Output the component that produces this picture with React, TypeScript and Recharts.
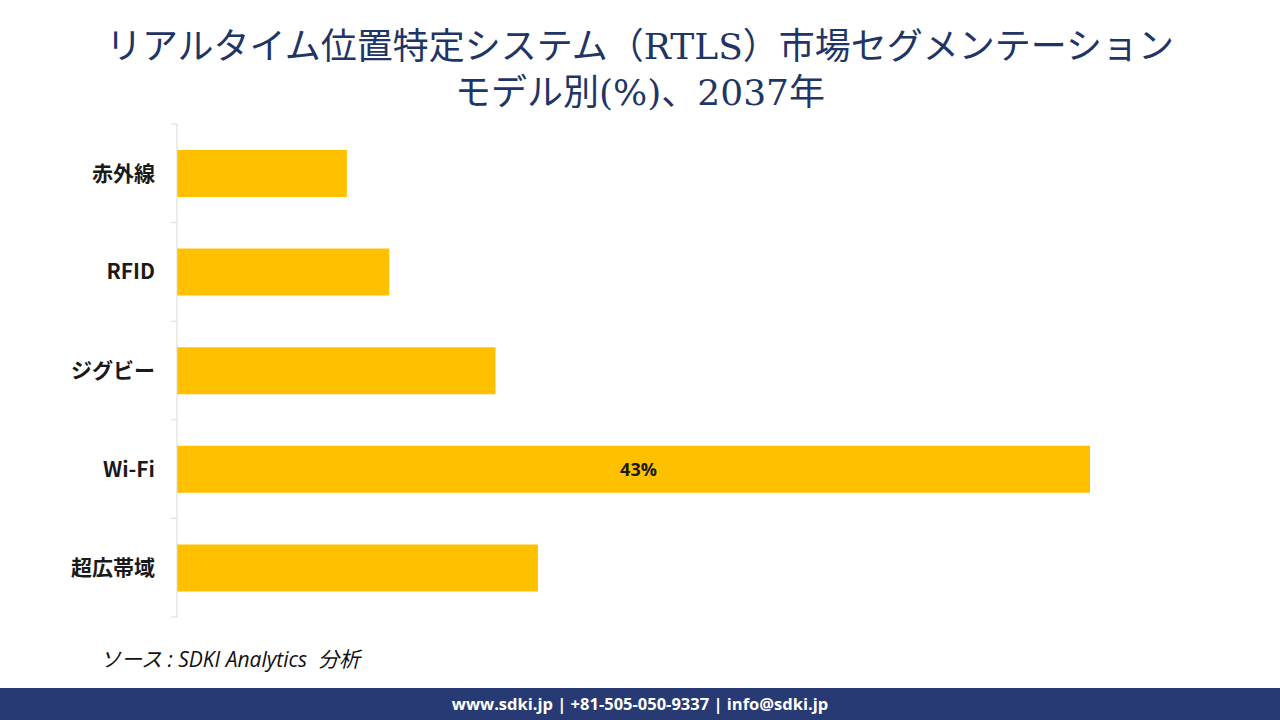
import { BarChart, Bar, XAxis, YAxis, LabelList } from "recharts";

const categories = ["赤外線", "RFID", "ジグビー", "Wi-Fi", "超広帯域"];
const shares = [8, 10, 15, 43, 17];
const shownLabels = ["", "", "", "43%", ""];

const data = categories.map((name, i) => ({ name, value: shares[i], label: shownLabels[i] }));

const W = 1280;
const H = 720;
const PLOT_TOP = 124;
const PLOT_BOTTOM = 617;
const PLOT_LEFT = 177;
const PLOT_RIGHT = 1090;
const AXIS_W = 110;
const band = (PLOT_BOTTOM - PLOT_TOP) / categories.length;

const CatTick = (props: any) => {
  const { x, y, payload, index } = props;
  return (
    <g>
      <line x1={x - 6} y1={y - band / 2} x2={x} y2={y - band / 2} stroke="#d9d9d9" />
      {index === categories.length - 1 && (
        <line x1={x - 6} y1={y + band / 2} x2={x} y2={y + band / 2} stroke="#d9d9d9" />
      )}
      <text
        x={x - 22}
        y={y}
        dy="0.36em"
        textAnchor="end"
        fill="#1a1a1a"
        fontSize={21}
        fontWeight={700}
        fontFamily="'Noto Sans CJK JP', 'Noto Sans', sans-serif"
      >
        {payload.value}
      </text>
    </g>
  );
};

export default function App() {
  return (
    <div style={{ position: "absolute", top: 0, left: 0, width: W, height: H, background: "#fff", overflow: "hidden" }}>
      <div
        style={{
          position: "absolute",
          top: 24,
          left: 0,
          width: W,
          textAlign: "center",
          color: "#1f3566",
          fontSize: 36,
          lineHeight: "46px",
          fontFamily: "'DejaVu Serif', 'Noto Sans CJK JP', serif",
        }}
      >
        リアルタイム位置特定システム（RTLS）市場セグメンテーション
        <br />
        モデル別(%)、2037年
      </div>
      <div style={{ position: "absolute", top: 0, left: 0 }}>
        <BarChart
          width={W}
          height={H}
          data={data}
          layout="vertical"
          margin={{ top: PLOT_TOP, bottom: H - PLOT_BOTTOM, left: PLOT_LEFT - AXIS_W, right: W - PLOT_RIGHT }}
        >
          <XAxis type="number" hide domain={[0, 43]} />
          <YAxis
            type="category"
            dataKey="name"
            width={AXIS_W}
            axisLine={{ stroke: "#d9d9d9" }}
            tickLine={false}
            tickSize={0}
            tickMargin={0}
            tick={<CatTick />}
            interval={0}
          />
          <Bar dataKey="value" fill="#ffc000" barSize={47} isAnimationActive={false}>
            <LabelList
              dataKey="label"
              position="center"
              offset={0}
              dx={5}
              fill="#1a1a1a"
              fontSize={18}
              fontWeight={700}
              fontFamily="'Open Sans', 'Noto Sans', sans-serif"
            />
          </Bar>
        </BarChart>
      </div>
      <div
        style={{
          position: "absolute",
          left: 100,
          top: 643,
          fontSize: 21,
          fontStyle: "italic",
          color: "#111",
          whiteSpace: "pre",
          fontFamily: "'Open Sans', 'Noto Sans CJK JP', sans-serif",
        }}
      >
        {"ソース : SDKI Analytics  分析"}
      </div>
      <div
        style={{
          position: "absolute",
          left: 0,
          top: 688,
          width: W,
          height: 32,
          background: "#283a73",
          color: "#fff",
          textAlign: "center",
          lineHeight: "32px",
          fontSize: 16.5,
          fontWeight: 700,
          fontFamily: "'Open Sans', 'Noto Sans', sans-serif",
        }}
      >
        www.sdki.jp | +81-505-050-9337 | info@sdki.jp
      </div>
    </div>
  );
}
